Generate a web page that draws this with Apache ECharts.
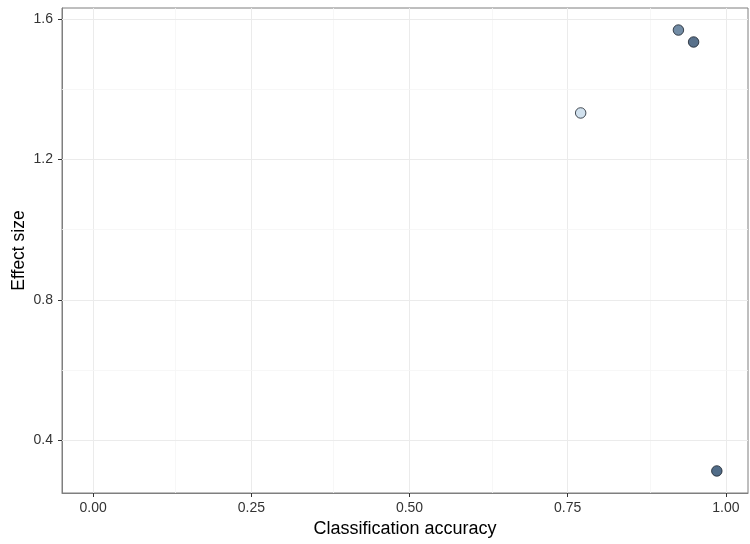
<!DOCTYPE html>
<html>
<head>
<meta charset="utf-8">
<script src="https://cdn.jsdelivr.net/npm/echarts@6/dist/echarts.min.js"></script>
<style>html,body{margin:0;padding:0;background:#fff}#c{width:750px;height:544px}</style>
</head>
<body>
<div id="c"></div>
<script>
// Data
const accuracy = [0.7705, 0.925, 0.949, 0.9857];
const effectSize = [1.332, 1.568, 1.534, 0.313];
const pointColors = ['#c6d9ea', '#4f6f8f', '#2f4e6e', '#25476a'];
const xTicks = [0, 0.25, 0.5, 0.75, 1.0];
const yTicks = [0.4, 0.8, 1.2, 1.6];
const xMinor = [0.125, 0.375, 0.625, 0.875];
const yMinor = [0.6, 1.0, 1.4];

// ggplot-style 5% expansion
const xLo = 0, xHi = Math.max(...accuracy);
const yLo = Math.min(...effectSize), yHi = Math.max(...effectSize);
const xPad = (xHi - xLo) * 0.05, yPad = (yHi - yLo) * 0.05;

const gridLines = [];
xTicks.forEach(v => gridLines.push({xAxis: v, lineStyle: {color: '#ebebeb', width: 1, type: 'solid'}}));
xMinor.forEach(v => gridLines.push({xAxis: v, lineStyle: {color: '#f5f5f5', width: 0.8, type: 'solid'}}));
yTicks.forEach(v => gridLines.push({yAxis: v, lineStyle: {color: '#ebebeb', width: 1, type: 'solid'}}));
yMinor.forEach(v => gridLines.push({yAxis: v, lineStyle: {color: '#f5f5f5', width: 0.8, type: 'solid'}}));

const chart = echarts.init(document.getElementById('c'), null, {renderer: 'canvas'});
chart.setOption({
  animation: false,
  backgroundColor: '#fff',
  grid: {left: 62, top: 8, right: 2, bottom: 51, containLabel: false, outerBoundsMode: 'none',
    show: true, borderColor: '#7f7f7f', borderWidth: 1, backgroundColor: 'transparent'},
  xAxis: {
    type: 'value', min: xLo - xPad, max: xHi + xPad,
    name: 'Classification accuracy', nameLocation: 'middle', nameGap: 27, nameMoveOverlap: false,
    nameTextStyle: {fontFamily: 'Liberation Sans', fontSize: 18, color: '#000'},
    axisLine: {show: true, onZero: false, lineStyle: {color: '#7f7f7f'}},
    axisTick: {show: true, customValues: xTicks, length: 4, lineStyle: {color: '#333'}},
    axisLabel: {customValues: xTicks, margin: 8, fontFamily: 'Liberation Sans', fontSize: 14, color: '#333',
      formatter: v => v.toFixed(2)},
    splitLine: {show: false}
  },
  yAxis: {
    type: 'value', min: yLo - yPad, max: yHi + yPad,
    name: 'Effect size', nameLocation: 'middle', nameGap: 34, nameRotate: 90, nameMoveOverlap: false,
    nameTextStyle: {fontFamily: 'Liberation Sans', fontSize: 17.5, color: '#000'},
    axisLine: {show: true, onZero: false, lineStyle: {color: '#7f7f7f'}},
    axisTick: {show: true, customValues: yTicks, length: 4, lineStyle: {color: '#333'}},
    axisLabel: {customValues: yTicks, margin: 9, fontFamily: 'Liberation Sans', fontSize: 14, color: '#333',
      formatter: v => v.toFixed(1)},
    splitLine: {show: false}
  },
  series: [
    {
      type: 'scatter', data: [], silent: true, z: 1,
      markLine: {silent: true, symbol: ['none', 'none'], label: {show: false}, animation: false, data: gridLines}
    },
    {
      type: 'scatter', z: 5, symbolSize: 10.5,
      data: accuracy.map((x, i) => ({value: [x, effectSize[i]], itemStyle: {color: pointColors[i]}})),
      itemStyle: {borderColor: '#1a222c', borderWidth: 1}
    }
  ]
});
</script>
</body>
</html>
